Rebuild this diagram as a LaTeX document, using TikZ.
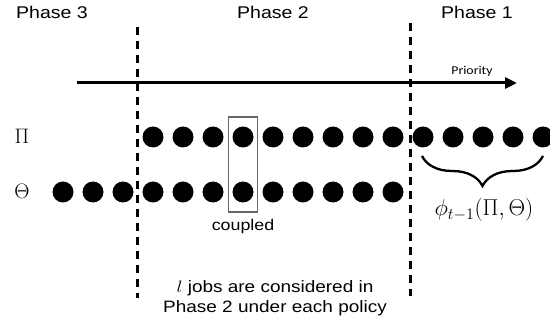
\RequirePackage{fix-cm}
\documentclass[tikz,border=0pt]{standalone}
\usepackage{fontspec}
\usepackage{graphicx}
\setmainfont{Liberation Sans}
\newfontfamily\prioritfont{Carlito}
\usetikzlibrary{arrows.meta,fit,positioning,decorations.pathreplacing}
\newcommand\wide[1]{\scalebox{1.15}[1]{#1}}
\tikzset{
  jobdot/.style={circle,fill=black,inner sep=0pt,minimum size=21pt},
  phaselabel/.style={font=\fontsize{17}{20}\selectfont,inner sep=0pt},
  rowlabel/.style={font=\fontsize{21}{24}\selectfont,inner sep=0pt},
  boundary/.style={line width=3pt,dash pattern=on 8.5pt off 5.5pt},
}
\begin{document}
\begin{tikzpicture}[x=1pt,y=-1pt]
\useasboundingbox (0,0) rectangle (550,326);

% phase names
\node[phaselabel] (ph3) at (52,12) {\wide{Phase 3}};
\node[phaselabel] (ph2) at (273,12) {\wide{Phase 2}};
\node[phaselabel] (ph1) at (477,12) {\wide{Phase 1}};

% phase boundaries
\coordinate (b3t) at (137,27);
\coordinate (b3b) at (137,298);
\coordinate (b2t) at (410,23);
\coordinate (b2b) at (410,296);
\draw[boundary] (b3t) -- (b3b);
\draw[boundary] (b2t) -- (b2b);

% priority axis
\coordinate (axs) at (77,83);
\coordinate (axe) at (517,83);
\draw[line width=3pt,-{Triangle[length=12pt,width=11pt]}] (axs) -- (axe);
\node[inner sep=0pt,font=\fontsize{12}{14}\selectfont\prioritfont] (prio) at (472,71) {\wide{Priority}};

% policy labels
\node[rowlabel] (pi) at (22,136) {$\Pi$};
\node[rowlabel] (th) at (22,191) {$\Theta$};

% jobs under each policy
\foreach \i in {0,...,13}
  \node[jobdot] (p\i) at (153+30*\i,137) {};
\foreach \i in {0,...,11}
  \node[jobdot] (t\i) at (63+30*\i,192) {};

% coupled pair
\node[draw=black!60,line width=1.5pt,inner xsep=4pt,inner ysep=9.5pt,fit=(p3)(t6)] (pair) {};
\node[inner sep=0pt,font=\fontsize{15.5}{18}\selectfont,below=6pt of pair.south,anchor=north] (cpl) {\wide{coupled}};

% jobs of phase 1
\coordinate (brl) at (422,156);
\coordinate (brr) at (543,156);
\draw[line width=2.3pt,decorate,decoration={brace,mirror,amplitude=30pt}] (brl) -- (brr);
\node[inner sep=0pt,font=\fontsize{23}{27}\selectfont] (phi) at (484,210) {$\phi_{t-1}(\Pi,\Theta)$};

% note
\node[inner sep=0pt,align=center,font=\fontsize{16.5}{20}\selectfont] (note) at (275,298)
  {\wide{$l$ jobs are considered in}\\\wide{Phase 2 under each policy}};
\end{tikzpicture}
\end{document}
